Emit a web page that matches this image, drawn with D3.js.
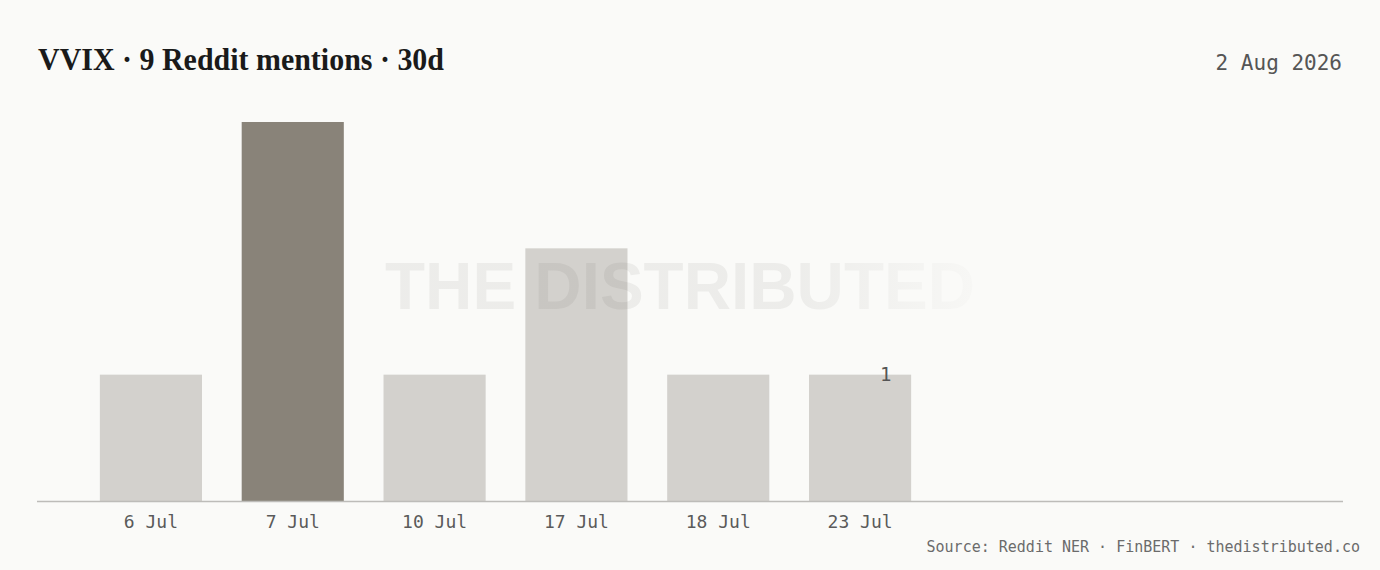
<!DOCTYPE html>
<html>
<head>
<meta charset="utf-8">
<script src="https://cdn.jsdelivr.net/npm/d3@7"></script>
<style>
  html, body { margin: 0; padding: 0; background: #fafaf8; }
  svg { display: block; }
</style>
</head>
<body>
<div id="chart"></div>
<script>
// chart data
const dates = ["6 Jul", "7 Jul", "10 Jul", "17 Jul", "18 Jul", "23 Jul"];
const mentions = [1, 3, 1, 2, 1, 1];
const peakDate = "7 Jul";
const title = "VVIX · 9 Reddit mentions · 30d";
const asOf = "2 Aug 2026";
const source = "Source: Reddit NER · FinBERT · thedistributed.co";

const width = 1380, height = 570;
const margin = {top: 122, right: 37, bottom: 69, left: 37};
const mono = "'DejaVu Sans Mono', 'Liberation Mono', monospace";

const data = dates.map((d, i) => ({date: d, value: mentions[i]}));

const svg = d3.select("#chart").append("svg")
    .attr("width", width)
    .attr("height", height);

svg.append("rect")
    .attr("width", width)
    .attr("height", height)
    .attr("fill", "#fafaf8");

// bars only fill the left part of the plot, the rest stays empty
const x = d3.scaleBand()
    .domain(dates)
    .range([80, 931])
    .paddingInner(0.28)
    .paddingOuter(0.14);

const y = d3.scaleLinear()
    .domain([0, d3.max(mentions)])
    .range([height - margin.bottom, margin.top]);

const g = svg.append("g");

g.selectAll(".bar")
    .data(data)
    .enter().append("rect")
    .attr("class", "bar")
    .attr("x", d => x(d.date))
    .attr("y", d => y(d.value))
    .attr("width", x.bandwidth())
    .attr("height", d => y(0) - y(d.value))
    .attr("fill", d => d.date === peakDate ? "#898379" : "#d3d1cd");

// baseline + date labels
const axis = g.append("g")
    .attr("transform", "translate(0," + y(0) + ")")
    .call(d3.axisBottom(x).tickSize(0).tickPadding(14));
axis.select(".domain").remove();
axis.selectAll("text")
    .attr("fill", "#5a5a5a")
    .style("font-family", mono)
    .style("font-size", "18px");

g.append("line")
    .attr("x1", margin.left)
    .attr("x2", width - margin.right)
    .attr("y1", y(0) + 0.5)
    .attr("y2", y(0) + 0.5)
    .attr("stroke", "#bdbcb9")
    .attr("stroke-width", 1.5);

// value of the last bar
const last = data[data.length - 1];
g.append("text")
    .attr("x", x(last.date) + x.bandwidth() * 0.75)
    .attr("y", y(last.value))
    .attr("dy", "0.35em")
    .attr("text-anchor", "middle")
    .attr("fill", "#555")
    .style("font-family", mono)
    .style("font-size", "19px")
    .text(last.value);

// watermark, fading out on the right
const defs = svg.append("defs");
const grad = defs.append("linearGradient")
    .attr("id", "wm-fade")
    .attr("gradientUnits", "userSpaceOnUse")
    .attr("x1", 790).attr("x2", 990)
    .attr("y1", 0).attr("y2", 0);
grad.append("stop").attr("offset", "0%").attr("stop-color", "#3a3630").attr("stop-opacity", 0.07);
grad.append("stop").attr("offset", "100%").attr("stop-color", "#3a3630").attr("stop-opacity", 0.01);

svg.append("text")
    .attr("x", 385)
    .attr("y", 309)
    .attr("fill", "url(#wm-fade)")
    .style("font-family", "'Liberation Sans', Arial, sans-serif")
    .style("font-weight", "bold")
    .style("font-size", "66px")
    .attr("textLength", 590)
    .attr("lengthAdjust", "spacingAndGlyphs")
    .text("THE DISTRIBUTED");

// title and date
svg.append("text")
    .attr("x", 38)
    .attr("y", 70)
    .attr("fill", "#1a1a1a")
    .style("font-family", "'Liberation Serif', 'DejaVu Serif', serif")
    .style("font-weight", "bold")
    .style("font-size", "32px")
    .attr("textLength", 406)
    .attr("lengthAdjust", "spacingAndGlyphs")
    .text(title);

svg.append("text")
    .attr("x", width - 38)
    .attr("y", 70)
    .attr("text-anchor", "end")
    .attr("fill", "#555")
    .style("font-family", mono)
    .style("font-size", "21px")
    .text(asOf);

svg.append("text")
    .attr("x", width - 20)
    .attr("y", 552)
    .attr("text-anchor", "end")
    .attr("fill", "#6b6b6b")
    .style("font-family", mono)
    .style("font-size", "15px")
    .text(source);
</script>
</body>
</html>
